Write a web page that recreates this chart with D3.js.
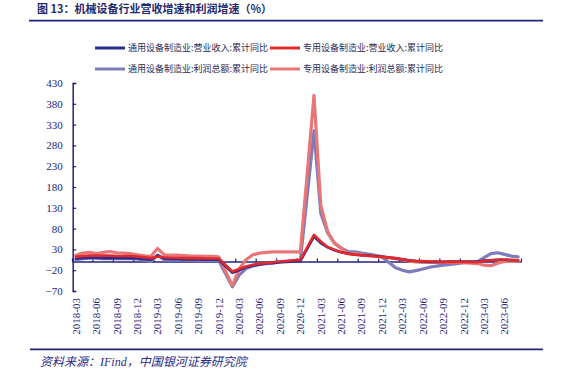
<!DOCTYPE html>
<html><head><meta charset="utf-8">
<script src="https://cdn.jsdelivr.net/npm/d3@7"></script>
<style>body{margin:0;background:#fff}svg{display:block}</style>
</head><body><svg id="c" width="561" height="382"></svg>
<script>
const months = [
 "2018-03","2018-04","2018-05","2018-06","2018-07","2018-08","2018-09","2018-10","2018-11","2018-12",
 "2019-02","2019-03","2019-04","2019-05","2019-06","2019-07","2019-08","2019-09","2019-10","2019-11","2019-12",
 "2020-02","2020-03","2020-04","2020-05","2020-06","2020-07","2020-08","2020-09","2020-10","2020-11","2020-12",
 "2021-02","2021-03","2021-04","2021-05","2021-06","2021-07","2021-08","2021-09","2021-10","2021-11","2021-12",
 "2022-02","2022-03","2022-04","2022-05","2022-06","2022-07","2022-08","2022-09","2022-10","2022-11","2022-12",
 "2023-02","2023-03","2023-04","2023-05","2023-06","2023-07","2023-08"];
const revenueGeneral = [
 8, 9, 10, 10, 9, 9, 9, 9, 9, 8,
 5, 16, 8, 7, 7, 6, 6, 6, 5, 5, 5,
 -26, -20, -13, -9, -6, -4, -3, -1, 0, 1, 2,
 61, 45, 35, 28, 23, 20, 17, 16, 15, 14, 13,
 8, 6, 4, 2, 1, 0, 0, 0, 1, 1, 1,
 1, 3, 4, 5, 5, 4, 4];
const revenueSpecial = [
 12, 14, 15, 15, 15, 15, 14, 14, 14, 13,
 9, 13, 11, 10, 10, 9, 9, 9, 8, 8, 8,
 -23, -17, -11, -7, -4, -3, -1, 1, 2, 4, 5,
 65, 49, 36, 29, 23, 19, 17, 16, 14, 13, 12,
 9, 6, 3, 2, 2, 1, 1, 0, 0, 0, 0,
 -1, 3, 4, 5, 5, 5, 4];
const profitGeneral = [
 5, 8, 9, 9, 8, 8, 8, 8, 8, 7,
 1, 16, 5, 4, 4, 4, 4, 3, 3, 3, 3,
 -60, -32, -16, -10, -6, -4, -2, 0, 2, 3, 4,
 315, 117, 70, 45, 33, 25, 24, 21, 19, 16, 12,
 -14, -20, -24, -21, -17, -13, -10, -8, -6, -4, -2,
 0, 10, 20, 22, 18, 14, 12];
const profitSpecial = [
 16, 21, 23, 20, 23, 25, 22, 21, 20, 17,
 13, 32, 17, 16, 16, 15, 14, 14, 13, 13, 12,
 -57, -17, 5, 17, 21, 23, 24, 24, 24, 24, 24,
 400, 135, 73, 45, 33, 21, 20, 17, 16, 15, 12,
 8, 5, 2, 0, -1, -1, -1, -1, -1, -1, -2,
 -4, -8, -9, -3, 1, 1, 1];
const xTickLabels = ["2018-03","2018-06","2018-09","2018-12","2019-03","2019-06","2019-09","2019-12",
 "2020-03","2020-06","2020-09","2020-12","2021-03","2021-06","2021-09","2021-12",
 "2022-03","2022-06","2022-09","2022-12","2023-03","2023-06"];
const yTicks = [-70, -20, 30, 80, 130, 180, 230, 280, 330, 380, 430];
const seriesNames = ["通用设备制造业:营业收入:累计同比","专用设备制造业:营业收入:累计同比",
 "通用设备制造业:利润总额:累计同比","专用设备制造业:利润总额:累计同比"];
const seriesColors = ["#2d2d8c","#e3282c","#7c7cba","#e87676"];
const titleText = "图 13：机械设备行业营收增速和利润增速（%）";
const sourceText = "资料来源：IFind，中国银河证券研究院";

const navy = "#22227a";
const svg = d3.select("#c");
const monthIndex = s => { const [y, m] = s.split("-").map(Number); return (y - 2018) * 12 + (m - 3); };
const x = d3.scaleLinear().domain([-0.5, 65.5]).range([72.5, 521.5]);
const y = d3.scaleLinear().domain([-70, 430]).range([291, 83]);

// title + rules
svg.append("text").attr("x", 37).attr("y", 12.5).text(titleText)
  .attr("font-family", "'Noto Sans CJK SC', sans-serif").attr("font-weight", "bold")
  .attr("font-size", 11).attr("fill", "#1f2a6e");
svg.append("line").attr("x1", 29).attr("x2", 543).attr("y1", 20.7).attr("y2", 20.7)
  .attr("stroke", navy).attr("stroke-width", 1.8);
svg.append("line").attr("x1", 30).attr("x2", 543).attr("y1", 349.3).attr("y2", 349.3)
  .attr("stroke", navy).attr("stroke-width", 1.8);
svg.append("text").attr("x", 40).attr("y", 366).text(sourceText)
  .attr("font-family", "'Liberation Serif', 'Noto Sans CJK SC', serif").attr("font-style", "italic")
  .attr("font-size", 12).attr("fill", "#2a2a86");

// legend
const legendPos = [[95, 48], [270, 48], [95, 69], [270, 69]];
seriesNames.forEach((n, i) => {
  const [lx, ly] = legendPos[i];
  svg.append("line").attr("x1", lx).attr("x2", lx + 30).attr("y1", ly).attr("y2", ly)
    .attr("stroke", seriesColors[i]).attr("stroke-width", 3);
  svg.append("text").attr("x", lx + 33).attr("y", ly).attr("dy", "0.35em").text(n)
    .attr("font-family", "'Noto Sans CJK SC', sans-serif").attr("font-size", 9).attr("fill", "#2a2a55");
});

// y axis
const yAxis = d3.axisLeft(y).tickValues(yTicks).tickSize(-3.5).tickPadding(10)
  .tickFormat(d => d < 0 ? "\u2212" + Math.abs(d) : String(d));
const gy = svg.append("g").attr("transform", "translate(72.7,0)").call(yAxis);
gy.select(".domain").attr("stroke", navy).attr("stroke-width", 1.5);
gy.selectAll(".tick line").attr("stroke", navy).attr("stroke-width", 1.2);
gy.selectAll("text").attr("font-family", "'Liberation Serif', serif").attr("font-size", 11).attr("fill", "#1e1e78");

// x axis (zero line) with ticks between quarters
const gx = svg.append("g");
gx.append("line").attr("x1", x(-0.5)).attr("x2", x(65.5)).attr("y1", y(0)).attr("y2", y(0))
  .attr("stroke", navy).attr("stroke-width", 1.5);
const tickIdx = xTickLabels.map(monthIndex).concat([66]);
gx.selectAll("line.t").data(tickIdx).join("line").attr("class", "t")
  .attr("x1", d => x(d - 0.5)).attr("x2", d => x(d - 0.5))
  .attr("y1", y(0)).attr("y2", y(0) - 3.5).attr("stroke", navy).attr("stroke-width", 1.2);
gx.selectAll("text").data(xTickLabels).join("text")
  .attr("transform", d => `translate(${x(monthIndex(d))},298) rotate(-90)`)
  .attr("dy", "0.35em").attr("text-anchor", "end").text(d => d)
  .attr("font-family", "'Liberation Serif', serif").attr("font-size", 11).attr("fill", "#1e1e78");

// lines
const series = [revenueGeneral, revenueSpecial, profitGeneral, profitSpecial];
const line = d3.line().x(d => x(d[0])).y(d => y(d[1]));
[2, 3, 0, 1].forEach(si => {
  const pts = months.map((m, k) => [monthIndex(m), series[si][k]]);
  svg.append("path").datum(pts).attr("d", line).attr("fill", "none")
    .attr("stroke", seriesColors[si]).attr("stroke-width", si >= 2 ? 3.2 : 2.6)
    .attr("stroke-linejoin", "round").attr("stroke-linecap", "round");
});
</script></body></html>
